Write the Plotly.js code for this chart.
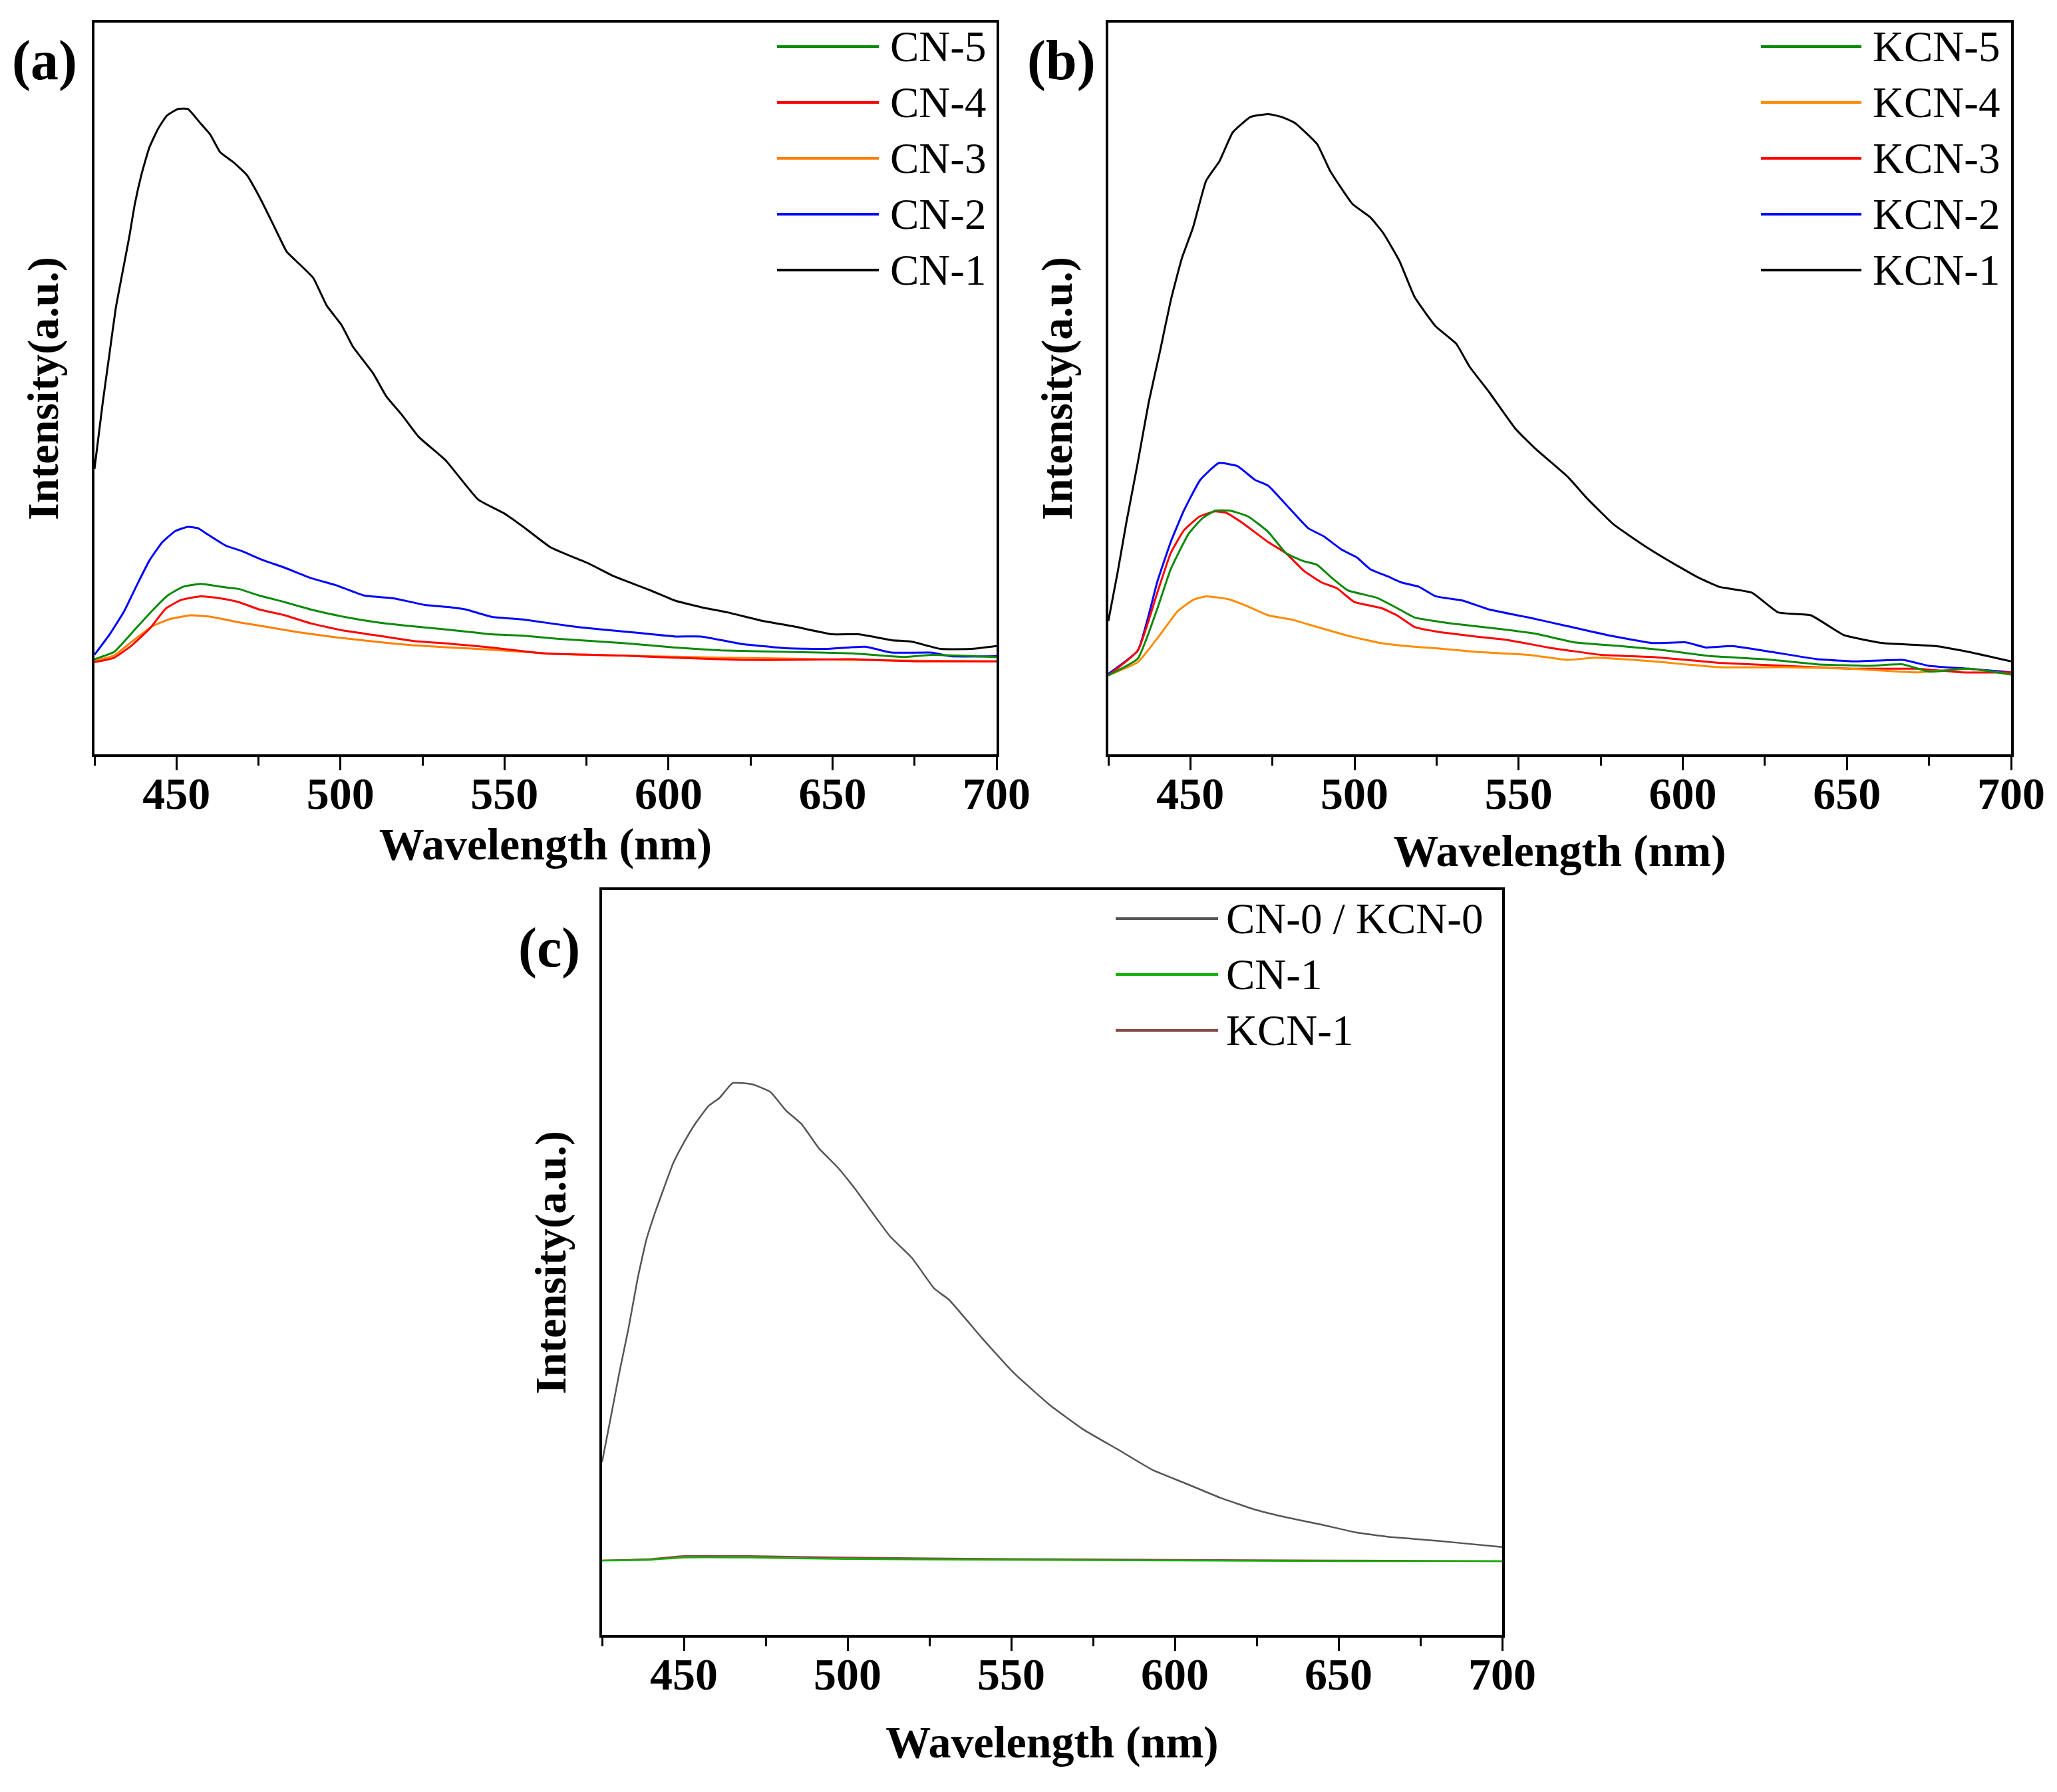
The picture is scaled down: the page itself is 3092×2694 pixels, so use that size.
<!DOCTYPE html>
<html>
<head>
<meta charset="utf-8">
<script src="https://cdn.plot.ly/plotly-3.0.1.min.js"></script>
<style>
  html, body { margin: 0; padding: 0; background: #fff; }
  #chart { width: 3092px; height: 2694px; }
</style>
</head>
<body>
<div id="chart"></div>
<script>
// PL spectra, intensity in arbitrary units (0-100 of plot height)
const tickWl = [450, 500, 550, 600, 650, 700];
const minorWl = [425, 475, 525, 575, 625, 675];

// panel (a)
const cn1Wl = [425, 427.5, 429.5, 431.5, 433.6, 435.6, 437.3, 439.3, 441.7, 444.4, 447.1, 450.5, 453.5, 457.2, 460.3, 463.3, 467.4, 471.4, 475.5, 479.5, 483.6, 486.3, 491.7, 495.7, 500.4, 503.8, 509.9, 514, 518.7, 523.8, 532, 542, 550, 556, 564, 576, 583, 594, 602, 611, 618, 628, 638, 650, 658, 668, 674, 683, 692, 700];
const cn1Int = [39.0, 48.0, 54.5, 61.0, 66.0, 70.7, 75.2, 79.2, 82.9, 85.5, 87.3, 88.2, 88.2, 86.3, 84.7, 82.3, 80.9, 79.2, 76.0, 72.4, 68.7, 67.5, 65.1, 61.4, 58.6, 55.7, 52.1, 48.9, 46.4, 43.4, 40.2, 34.8, 32.9, 31.0, 28.3, 26.0, 24.4, 22.5, 21.0, 20.0, 19.4, 18.3, 17.5, 16.4, 16.4, 15.6, 15.4, 14.4, 14.4, 14.8];
const cn2Wl = [425, 429.5, 434.1, 438, 441.9, 445.7, 449.6, 453.5, 456.6, 459.7, 465.1, 469.8, 476, 483, 490.9, 498.7, 507.2, 516.5, 525.8, 533.6, 538.2, 546, 556, 572, 586, 602, 610, 622, 636, 648, 660, 668, 680, 686, 700];
const cn2Int = [13.6, 16.3, 19.6, 23.2, 26.6, 29.0, 30.5, 31.1, 30.9, 30.0, 28.5, 27.8, 26.6, 25.5, 24.1, 23.1, 21.7, 21.3, 20.4, 20.1, 19.8, 18.8, 18.4, 17.4, 16.8, 16.1, 16.1, 15.1, 14.5, 14.4, 14.7, 13.9, 13.9, 13.4, 13.4];
const cn5Wl = [425, 431, 436.4, 441.9, 447.3, 452, 457.4, 463.6, 469, 475.2, 483, 490.9, 501, 510.3, 522, 533.6, 546, 556, 566, 586, 602, 616, 636, 656, 672, 680, 700];
const cn5Int = [13.0, 14.0, 16.6, 19.3, 21.7, 22.9, 23.3, 22.9, 22.6, 21.7, 20.8, 19.8, 18.8, 18.1, 17.5, 17.0, 16.4, 16.2, 15.8, 15.2, 14.6, 14.2, 14.0, 13.8, 13.3, 13.6, 13.3];
const cn4Wl = [425, 431, 436.4, 441.9, 446.7, 451.4, 457.4, 463.6, 469, 475.2, 483, 490.9, 501, 510.3, 522, 533.6, 546, 562, 586, 602, 622, 636, 656, 676, 700];
const cn4Int = [12.6, 13.2, 14.9, 17.2, 19.9, 21.1, 21.6, 21.3, 20.8, 19.8, 19.0, 17.9, 16.9, 16.3, 15.5, 15.1, 14.6, 13.8, 13.5, 13.2, 12.9, 12.9, 13.0, 12.7, 12.7];
const cn3Wl = [425, 431, 436.4, 442.6, 448.1, 454.3, 460.5, 468.3, 479.1, 486.9, 498.5, 510.3, 522, 533.6, 546, 566, 586, 616, 636, 656, 676, 700];
const cn3Int = [12.8, 13.5, 15.4, 17.5, 18.5, 19.0, 18.8, 18.1, 17.3, 16.7, 16.0, 15.4, 14.9, 14.6, 14.3, 13.7, 13.5, 13.2, 13.1, 12.9, 12.8, 12.7];

// panel (b)
const kcn1Wl = [425, 427.8, 430.5, 433.9, 437.3, 440.7, 444, 447.4, 450.8, 454.8, 458.9, 462.9, 468.3, 473.7, 477.8, 481.8, 488.6, 492.6, 499.4, 504.8, 508.8, 513.6, 518.3, 524.7, 531, 535, 541, 549, 555, 565, 571, 579, 589, 599, 605, 611, 621, 629, 639, 649, 661, 677, 687, 700];
const kcn1Int = [18.2, 24.8, 31.7, 39.7, 48.1, 55.0, 62.0, 67.8, 72.0, 78.4, 81.1, 85.0, 87.1, 87.5, 87.1, 86.3, 83.4, 79.7, 75.2, 73.4, 71.2, 67.5, 62.5, 58.5, 56.1, 53.0, 49.5, 44.5, 41.8, 37.9, 34.9, 31.4, 28.3, 25.6, 24.1, 22.9, 22.1, 19.4, 19.0, 16.3, 15.2, 14.8, 14.0, 12.7];
const kcn2Wl = [425, 434, 440, 444, 448, 453, 458.6, 464.3, 469.7, 473.7, 479.8, 485.9, 490.6, 496, 500.7, 504.8, 510.2, 514.2, 519.6, 524.7, 533, 541, 553, 565, 577, 591, 601, 607, 615, 627, 641, 653, 667, 675, 687, 700];
const kcn2Int = [11.0, 14.2, 23.7, 29.0, 33.3, 37.5, 39.8, 39.4, 37.5, 36.7, 33.8, 30.9, 29.8, 28.0, 26.9, 25.3, 24.3, 23.5, 22.9, 21.6, 21.0, 19.8, 18.7, 17.5, 16.3, 15.2, 15.3, 14.6, 14.8, 14.0, 13.0, 12.7, 12.9, 12.1, 11.7, 11.2];
const kcn5Wl = [425, 434, 440, 444, 449.4, 453.5, 457.5, 462.2, 467.6, 473.7, 479.1, 484.5, 488.6, 492.6, 498, 506.8, 512.9, 518.3, 524.7, 529, 537, 545, 555, 567, 581, 593, 609, 625, 641, 657, 667, 675, 687, 700];
const kcn5Int = [10.8, 13.1, 20.0, 25.3, 30.1, 32.2, 33.3, 33.3, 32.5, 30.4, 27.5, 26.4, 25.9, 24.3, 22.4, 21.4, 20.0, 18.7, 18.2, 17.9, 17.5, 17.1, 16.5, 15.3, 14.8, 14.3, 13.4, 13.0, 12.3, 12.1, 12.3, 11.3, 11.7, 10.9];
const kcn3Wl = [425, 434, 440, 444, 448, 452.8, 457.5, 460.9, 465.6, 473.7, 479.1, 484.5, 489.9, 494.6, 500, 508.1, 512.9, 518.3, 524.7, 537, 547, 559, 575, 591, 611, 631, 651, 671, 685, 700];
const kcn3Int = [10.8, 14.2, 22.2, 27.5, 30.6, 32.5, 33.2, 33.0, 31.7, 29.0, 27.5, 25.1, 23.5, 22.7, 20.8, 20.0, 19.0, 17.4, 16.8, 16.1, 15.6, 14.6, 13.6, 13.3, 12.5, 12.1, 11.7, 11.7, 11.2, 11.2];
const kcn4Wl = [425, 434, 440.7, 446, 450.8, 454.8, 461.6, 467, 473.7, 481, 488.6, 498, 508, 518.3, 524.7, 537, 553, 565, 573, 591, 611, 631, 651, 671, 687, 700];
const kcn4Int = [10.8, 12.6, 16.3, 19.5, 21.1, 21.6, 21.2, 20.3, 19.0, 18.4, 17.4, 16.2, 15.2, 14.7, 14.5, 14.0, 13.6, 12.9, 13.2, 12.7, 11.9, 11.9, 11.7, 11.2, 11.7, 10.9];

// panel (c)
const cn0Wl = [425, 427.7, 430.4, 433.1, 435.8, 438.5, 441.2, 443.9, 446.7, 450, 453.4, 457.5, 460.9, 464.9, 471, 476.4, 481.2, 485.9, 491.3, 496.7, 502.1, 508.9, 513, 519.7, 526.5, 531, 541, 551, 562, 572, 583, 593, 603, 614, 624, 634, 645, 655, 665, 676, 686, 700];
const cn0Int = [23.2, 29.3, 35.5, 41.2, 47.7, 53.0, 56.7, 60.0, 63.3, 66.1, 68.6, 71.0, 72.1, 74.1, 73.9, 72.9, 70.4, 68.6, 65.3, 62.9, 60.0, 55.9, 53.5, 50.6, 46.5, 45.0, 39.9, 35.1, 30.8, 27.6, 24.8, 22.2, 20.4, 18.4, 16.9, 15.8, 14.8, 13.8, 13.2, 12.8, 12.4, 11.8];
const flatWl = [425, 440, 450, 470, 500, 550, 600, 650, 700];
const cn1cInt = [10.0, 10.1, 10.4, 10.4, 10.2, 10.1, 10.0, 9.9, 9.9];
const kcn1cInt = [10.0, 10.2, 10.6, 10.6, 10.4, 10.2, 10.1, 10.0, 9.9];

const FONT = 'Liberation Serif, Times New Roman, serif';
const W = 3092, H = 2694;

// plot boxes in page pixels: left, right, top, bottom
const boxA = [142, 1498, 34, 1134];
const boxB = [1666, 3023, 34, 1134];
const boxC = [905, 2258, 1338, 2458];

// legend entries top-to-bottom, as in the figure
const panels = [
  { ax: '', box: boxA, label: '(a)', legX: [1168, 1321, 1336], legY: 70, xStand: 0,
    series: [
      { name: 'CN-5', color: '#0a8a0a', x: cn5Wl, y: cn5Int },
      { name: 'CN-4', color: '#ff0000', x: cn4Wl, y: cn4Int },
      { name: 'CN-3', color: '#ff7f00', x: cn3Wl, y: cn3Int },
      { name: 'CN-2', color: '#0000ff', x: cn2Wl, y: cn2Int },
      { name: 'CN-1', color: '#000000', x: cn1Wl, y: cn1Int }
    ] },
  { ax: '2', box: boxB, label: '(b)', legX: [2647, 2798, 2813], legY: 70, xStand: 26,
    series: [
      { name: 'KCN-5', color: '#0a8a0a', x: kcn5Wl, y: kcn5Int },
      { name: 'KCN-4', color: '#ff8c00', x: kcn4Wl, y: kcn4Int },
      { name: 'KCN-3', color: '#ff0000', x: kcn3Wl, y: kcn3Int },
      { name: 'KCN-2', color: '#0000ff', x: kcn2Wl, y: kcn2Int },
      { name: 'KCN-1', color: '#000000', x: kcn1Wl, y: kcn1Int }
    ] },
  { ax: '3', box: boxC, label: '(c)', legX: [1677, 1831, 1841], legY: 1381, xStand: 42,
    series: [
      { name: 'CN-0 / KCN-0', color: '#555555', x: cn0Wl, y: cn0Int },
      { name: 'CN-1', color: '#12b000', x: flatWl, y: cn1cInt },
      { name: 'KCN-1', color: '#8b4a4a', x: flatWl, y: kcn1cInt }
    ] }
];
const labelPos = { '(a)': [16, 91], '(b)': [1542, 91], '(c)': [777, 1425] };

const data = [];
const shapes = [];
const annotations = [];
const layout = {
  width: W, height: H,
  margin: { l: 0, r: 0, t: 0, b: 0 },
  paper_bgcolor: '#fff', plot_bgcolor: '#fff',
  showlegend: false,
  font: { family: FONT, color: '#000' }
};

panels.forEach(p => {
  const [l, r, t, b] = p.box;
  // draw in reverse so the first legend entry ends on top
  p.series.slice().reverse().forEach(s => {
    data.push({
      x: s.x, y: s.y, name: s.name, type: 'scatter', mode: 'lines',
      xaxis: 'x' + p.ax, yaxis: 'y' + p.ax,
      line: { color: s.color, width: p.ax === '3' ? 2.5 : 3, shape: 'spline', smoothing: 0.4 }
    });
  });

  layout['xaxis' + p.ax] = {
    domain: [l / W, r / W], anchor: 'y' + p.ax,
    range: [425, 700], tickvals: tickWl, ticktext: tickWl.map(String),
    ticks: 'outside', ticklen: 20, tickwidth: 3, tickcolor: '#000',
    ticklabelstandoff: -24,
    minor: { tickvals: minorWl, ticks: 'outside', ticklen: 13, tickwidth: 3, tickcolor: '#000' },
    showline: true, linewidth: 4, linecolor: '#000', mirror: true,
    showgrid: false, zeroline: false, automargin: false,
    tickfont: { family: FONT, size: 68, weight: 'bold', color: '#000' },
    title: { text: 'Wavelength (nm)', standoff: p.xStand,
             font: { family: FONT, size: 68, weight: 'bold', color: '#000' } }
  };
  layout['yaxis' + p.ax] = {
    domain: [1 - b / H, 1 - t / H], anchor: 'x' + p.ax,
    range: [0, 100], showticklabels: false, ticks: '',
    showline: true, linewidth: 4, linecolor: '#000', mirror: true,
    showgrid: false, zeroline: false, automargin: false,
    title: { text: 'Intensity(a.u.)', standoff: 30,
             font: { family: FONT, size: 66, weight: 'bold', color: '#000' } }
  };

  // hand-drawn legend with long line samples
  p.series.forEach((s, i) => {
    const yy = 1 - (p.legY + i * 84) / H;
    shapes.push({
      type: 'line', xref: 'paper', yref: 'paper',
      x0: p.legX[0] / W, x1: p.legX[1] / W, y0: yy, y1: yy,
      line: { color: s.color, width: 4 }
    });
    annotations.push({
      xref: 'paper', yref: 'paper', x: p.legX[2] / W, y: yy,
      xanchor: 'left', yanchor: 'middle', showarrow: false, text: s.name,
      font: { family: FONT, size: 65, color: '#000' }
    });
  });

  const lp = labelPos[p.label];
  annotations.push({
    xref: 'paper', yref: 'paper', x: lp[0] / W, y: 1 - lp[1] / H,
    xanchor: 'left', yanchor: 'middle', showarrow: false, text: p.label,
    font: { family: FONT, size: 84, weight: 'bold', color: '#000' }
  });
});

layout.shapes = shapes;
layout.annotations = annotations;

Plotly.newPlot('chart', data, layout, { displayModeBar: false, staticPlot: true });
</script>
</body>
</html>
